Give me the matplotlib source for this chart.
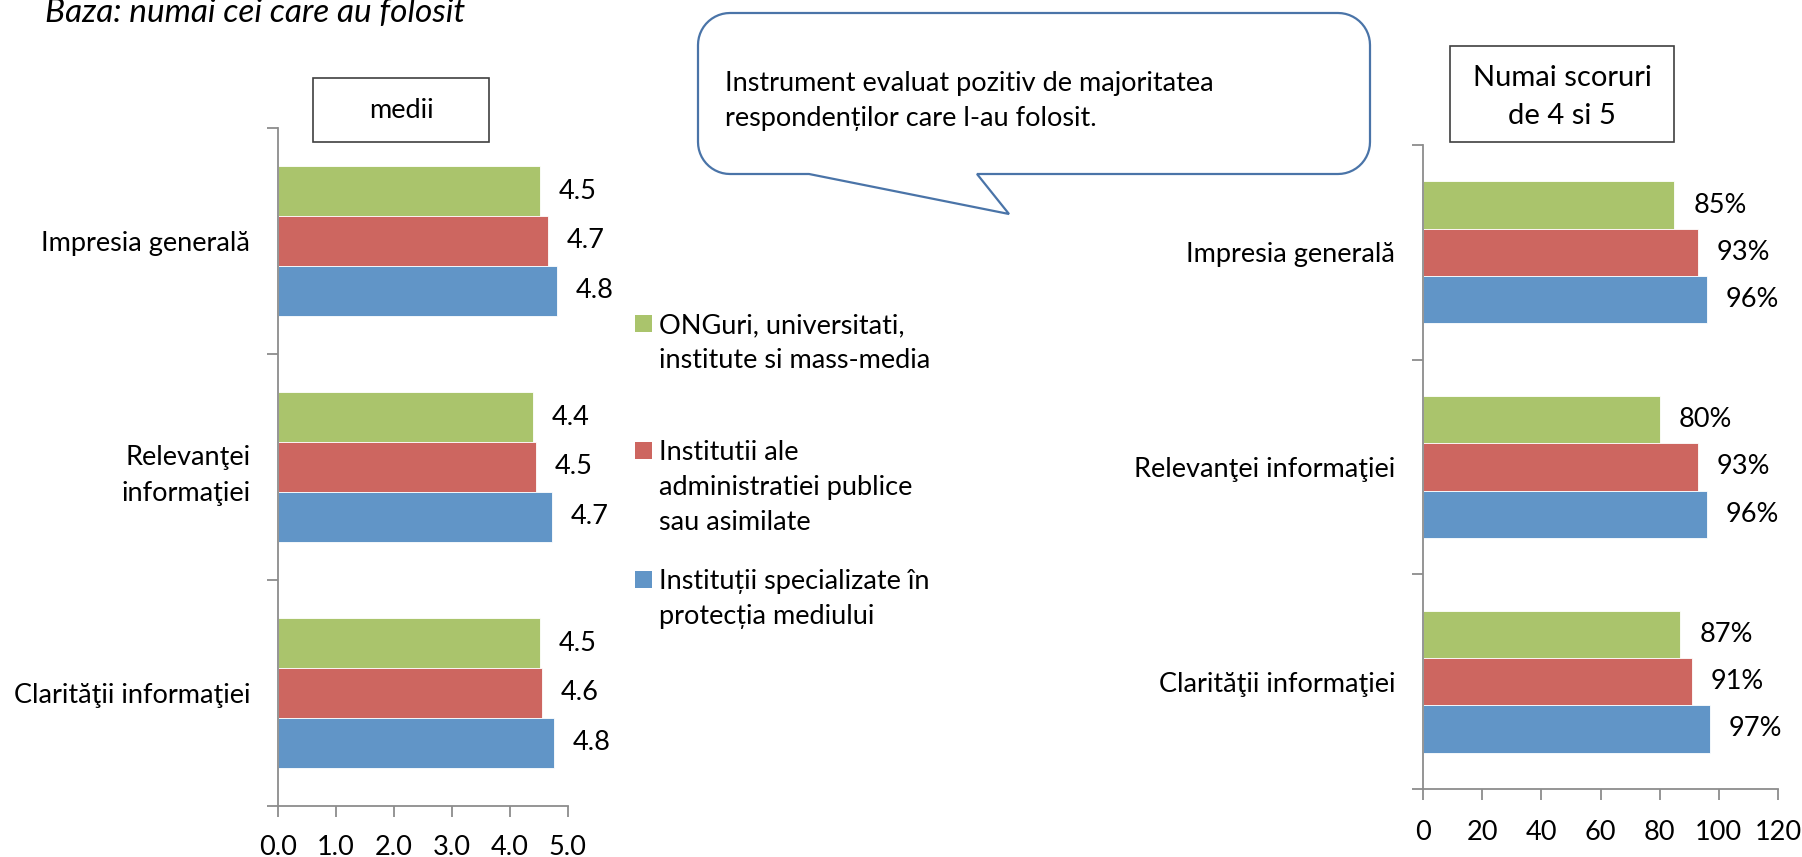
import numpy as np
import matplotlib
matplotlib.use("Agg")
import matplotlib.pyplot as plt
from matplotlib.patches import Rectangle, Polygon
from matplotlib.transforms import IdentityTransform

plt.rcParams['font.family'] = ['Lato', 'DejaVu Sans']

# date
categorii_st = ["Impresia generală", "Relevanţei\ninformaţiei", "Clarităţii informaţiei"]
categorii_dr = ["Impresia generală", "Relevanţei informaţiei", "Clarităţii informaţiei"]
serii = ["ONGuri, universitati,\ninstitute si mass-media",
         "Institutii ale\nadministratiei publice\nsau asimilate",
         "Instituții specializate în\nprotecția mediului"]
culori = ["#AAC46C", "#CD6660", "#6195C7"]

# medii (scala 1-5)
medii_ong = [4.52, 4.40, 4.53]
medii_admin = [4.67, 4.46, 4.56]
medii_mediu = [4.82, 4.73, 4.76]

# procent scoruri 4 si 5
proc_ong = [85, 80, 87]
proc_admin = [93, 93, 91]
proc_mediu = [96, 96, 97]

W, H = 1802, 857
FS = 19.5
fig = plt.figure(figsize=(W / 100, H / 100), dpi=100)


def px_axes(x0, y0, x1, y1):
    # cutie in pixeli (sus-stanga) -> axes
    return fig.add_axes([x0 / W, 1 - y1 / H, (x1 - x0) / W, (y1 - y0) / H])


def bare(ax, cats, serii_val, fmt, xmax, xstep, xfmt, xpad):
    y = np.arange(len(cats))
    h = 0.22
    for k, vals in enumerate(serii_val):
        pos = y + (k - 1) * h
        ax.barh(pos, vals, height=h, color=culori[k], edgecolor="white", linewidth=0.6)
        for p, v in zip(pos, vals):
            ax.annotate(fmt(v), (v, p), xytext=(13.5, 0), textcoords="offset points",
                        ha="left", va="center", fontsize=FS, color="black")
    ax.set_xlim(0, xmax)
    ax.set_ylim(len(cats) - 0.5, -0.5)
    ax.set_yticks(np.arange(len(cats) + 1) - 0.5)
    ax.set_yticklabels([])
    ax.set_yticks(y, minor=True)
    ax.set_yticklabels(cats, minor=True, fontsize=FS, linespacing=1.6)
    ax.tick_params(axis="y", which="minor", length=0, pad=20)
    ax.tick_params(axis="y", which="major", length=8, width=1.3, color="#8C8C8C", direction="out")
    ticks = np.arange(0, xmax + xstep / 2, xstep)
    ax.set_xticks(ticks)
    ax.set_xticklabels([xfmt(t) for t in ticks], fontsize=FS)
    ax.tick_params(axis="x", length=8, width=1.3, color="#8C8C8C", direction="out", pad=xpad)
    for s in ("top", "right"):
        ax.spines[s].set_visible(False)
    for s in ("left", "bottom"):
        ax.spines[s].set_color("#8C8C8C")
        ax.spines[s].set_linewidth(1.3)


ax1 = px_axes(278, 128, 567.5, 806)
bare(ax1, categorii_st, [medii_ong, medii_admin, medii_mediu],
     lambda v: f"{v:.1f}", 5, 1, lambda t: f"{t:.1f}", 13)

ax2 = px_axes(1423, 145, 1778, 789)
bare(ax2, categorii_dr, [proc_ong, proc_admin, proc_mediu],
     lambda v: f"{v:.0f}%", 120, 20, lambda t: f"{t:.0f}", 14.5)

ident = IdentityTransform()


def fy(y):
    return H - y


# titlu
fig.text(45, fy(22), "Baza: numai cei care au folosit", transform=ident,
         fontsize=24, style="italic", va="baseline", ha="left")

# casete
fig.patches.append(Rectangle((313, fy(142)), 176, 64, transform=ident,
                             facecolor="white", edgecolor="#404040", lw=1.2))
fig.text(401, fy(110), "medii", transform=ident, fontsize=FS, ha="center", va="center")

fig.patches.append(Rectangle((1450, fy(142)), 224, 96, transform=ident,
                             facecolor="white", edgecolor="#404040", lw=1.2))
fig.text(1562, fy(97), "Numai scoruri\nde 4 si 5", transform=ident, fontsize=21,
         ha="center", va="center", linespacing=1.6)

# legenda
leg_y = [315, 442, 571]
leg_c = [343, 487, 599]
for k in range(3):
    fig.patches.append(Rectangle((635, fy(leg_y[k] + 17)), 17, 17, transform=ident,
                                 facecolor=culori[k], edgecolor="none"))
    fig.text(659, fy(leg_c[k]), serii[k], transform=ident, fontsize=FS,
             ha="left", va="center", linespacing=1.5)

# balon
x0, y0, x1, y1, r = 698, 13, 1370, 174, 32


def arc(cx, cy, a0, a1):
    t = np.radians(np.linspace(a0, a1, 14))
    return [(cx + r * np.cos(t_), cy - r * np.sin(t_)) for t_ in t]


pts = []
pts += arc(x1 - r, y0 + r, 90, 0)
pts += arc(x1 - r, y1 - r, 0, -90)
pts += [(977, y1), (1009, 214), (809, y1)]
pts += arc(x0 + r, y1 - r, -90, -180)
pts += arc(x0 + r, y0 + r, 180, 90)
pts = [(px, fy(py)) for px, py in pts]
fig.patches.append(Polygon(pts, closed=True, transform=ident, facecolor="white",
                           edgecolor="#4A74A8", lw=1.6))
fig.text(725, fy(101), "Instrument evaluat pozitiv de majoritatea\nrespondenților care l-au folosit.",
         transform=ident, fontsize=FS, ha="left", va="center", linespacing=1.48)

fig.savefig("out.png", dpi=100)
